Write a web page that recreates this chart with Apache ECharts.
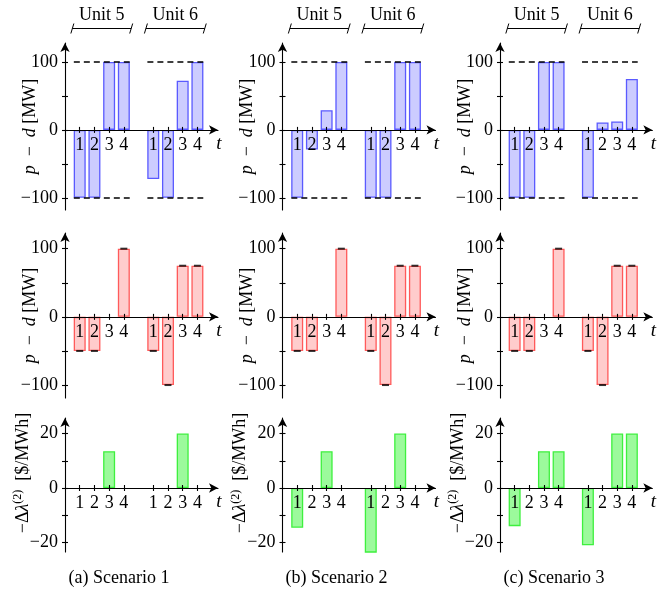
<!DOCTYPE html>
<html><head><meta charset="utf-8">
<script src="https://cdn.jsdelivr.net/npm/echarts@6/dist/echarts.min.js"></script>
<style>html,body{margin:0;padding:0;background:#fff}#c{width:657px;height:603px}</style>
</head><body><div id="c"></div>
<script>
// ---- data ----
const scenarioLabels = ['(a) Scenario 1', '(b) Scenario 2', '(c) Scenario 3'];
const unitLabels = ['Unit 5', 'Unit 6'];
const slotLabels = ['1', '2', '3', '4'];
const slotPositions = [1, 2, 3, 4, 6, 7, 8, 9];
const unitSpans = [[0.5, 4.5], [5.5, 9.5]];
const limitSpans = [[0.6, 4.4], [5.6, 9.4]];
const powerLimits = [-100, 100];
// row 1: p - d [MW]
const powerS1 = [-100, -100, 100, 100, -72.5, -100, 72.5, 100];
const powerS2 = [-100, -29, 29, 100, -100, -100, 100, 100];
const powerS3 = [-100, -100, 100, 100, -100, 11, 12.5, 75];
// row 2: p - d [MW]
const deviationS1 = [-50, -50, 0, 100, -50, -100, 75, 75];
const deviationS2 = [-50, -50, 0, 100, -50, -100, 75, 75];
const deviationS3 = [-50, -50, 0, 100, -50, -100, 75, 75];
// row 3: -Δλ(2) [$/MWh]
const priceS1 = [0, 0, 13.5, 0, 0, 0, 20, 0];
const priceS2 = [-14.6, 0, 13.5, 0, -24.6, 0, 20, 0];
const priceS3 = [-14, 0, 13.5, 13.5, -21, 0, 20, 20];
const powerTicks = [-100, -50, 0, 50, 100];
const powerTickLabels = [-100, 0, 100];
const priceTicks = [-20, -10, 0, 10, 20];
const priceTickLabels = [-20, 0, 20];

const rowsData = [
  [powerS1, powerS2, powerS3],
  [deviationS1, deviationS2, deviationS3],
  [priceS1, priceS2, priceS3]
];

// ---- layout / style ----
const FONT = 'Liberation Serif';
const FS = 18;
const colLeft = [65, 282.5, 500];
const gridW = 153;
const rows = [
  { top: 43, height: 167, min: -118, max: 128, ticks: powerTicks, labels: powerTickLabels,
    fill: '#ccccff', border: '#5a5aff', caps: false, limits: true },
  { top: 233, height: 165, min: -119, max: 123, ticks: powerTicks, labels: powerTickLabels,
    fill: '#ffcccc', border: '#ff5a5a', caps: true, limits: false },
  { top: 418, height: 134, min: -23.5, max: 25.7, ticks: priceTicks, labels: priceTickLabels,
    fill: '#9cfa9c', border: '#3ef03e', caps: false, limits: false }
];
const X_MAX = 10.4;
const fmtNum = v => v < 0 ? '\u2212' + (-v) : String(v);

const grid = [], xAxis = [], yAxis = [], series = [];
for (let r = 0; r < 3; r++) {
  for (let c = 0; c < 3; c++) {
    const g = r * 3 + c;
    const R = rows[r];
    const zeroOffset = -R.height * (0 - R.min) / (R.max - R.min);
    grid.push({ left: colLeft[c], top: R.top, width: gridW, height: R.height });
    const lineStyle = { color: '#000', width: 1.1 };
    xAxis.push({
      type: 'value', gridIndex: g, position: 'bottom', offset: zeroOffset, min: 0, max: X_MAX, z: 5,
      axisLine: { show: true, onZero: false, symbol: ['none', 'arrow'], symbolSize: [7, 9], lineStyle },
      axisTick: { show: true, customValues: slotPositions, length: 3, lineStyle },
      axisLabel: { show: true, customValues: slotPositions, margin: 6, color: '#000', fontFamily: FONT, fontSize: FS,
        formatter: v => slotLabels[slotPositions.indexOf(v) % 4] },
      splitLine: { show: false },
      name: 't', nameLocation: 'end', nameGap: 1, nameMoveOverlap: false,
      nameTextStyle: { fontFamily: FONT, fontSize: FS + 1, fontStyle: 'italic', color: '#000',
        align: 'center', verticalAlign: 'top', padding: [5, 0, 0, 0] }
    });
    xAxis.push({
      type: 'value', gridIndex: g, position: 'bottom', offset: zeroOffset, min: 0, max: X_MAX, z: 5,
      axisLine: { show: false, onZero: false },
      axisTick: { show: true, inside: true, customValues: slotPositions, length: 3, lineStyle },
      axisLabel: { show: false }, splitLine: { show: false }
    });
    let yName, yGap, yPad;
    if (r < 2) {
      yName = '{i|p}  \u2212  {i|d} [MW]';
      yGap = 26; yPad = [0, 0, 0, 0];
    } else {
      yName = '{n|\u2212\u0394}{i|\u03bb}{sup|(2)}  {n|[$/MWh]}';
      yGap = 31; yPad = [0, 0, 0, 24];
    }
    yAxis.push({
      type: 'value', gridIndex: g, position: 'left', min: R.min, max: R.max, z: 5,
      axisLine: { show: true, onZero: false, symbol: ['none', 'arrow'], symbolSize: [7, 9], lineStyle },
      axisTick: { show: true, customValues: R.ticks, length: 3, lineStyle },
      axisLabel: { show: true, customValues: R.labels, margin: 7, color: '#000', fontFamily: FONT, fontSize: FS,
        formatter: fmtNum },
      splitLine: { show: false },
      name: yName, nameLocation: 'middle', nameGap: yGap, nameRotate: 90, nameMoveOverlap: false,
      nameTextStyle: { fontFamily: FONT, fontSize: FS, color: '#000', padding: yPad,
        rich: {
          i: { fontFamily: FONT, fontSize: FS, fontStyle: 'italic', color: '#000' },
          n: { fontFamily: FONT, fontSize: FS, color: '#000' },
          sup: { fontFamily: FONT, fontSize: 12, color: '#000', verticalAlign: 'top', lineHeight: 22 }
        } }
    });
    yAxis.push({
      type: 'value', gridIndex: g, position: 'left', min: R.min, max: R.max, z: 5,
      axisLine: { show: false, onZero: false },
      axisTick: { show: true, inside: true, customValues: R.ticks, length: 3, lineStyle },
      axisLabel: { show: false }, splitLine: { show: false }
    });
    const vals = rowsData[r][c];
    const pts = slotPositions.map((x, i) => [x, vals[i]]).filter(d => d[1] !== 0);
    const bar = {
      type: 'bar', xAxisIndex: 2 * g, yAxisIndex: 2 * g, barWidth: 12, data: pts,
      itemStyle: { color: R.fill, borderColor: R.border, borderWidth: 1.3 },
      silent: true, animation: false
    };
    if (R.limits) {
      const md = [];
      powerLimits.forEach(lim => limitSpans.forEach(s => md.push([{ coord: [s[0], lim] }, { coord: [s[1], lim] }])));
      bar.markLine = { silent: true, symbol: ['none', 'none'], label: { show: false }, animation: false,
        lineStyle: { type: [6, 4], color: '#000', width: 1.7 }, data: md };
    }
    series.push(bar);
    if (R.caps) {
      series.push({
        type: 'scatter', xAxisIndex: 2 * g, yAxisIndex: 2 * g, data: pts, symbol: 'rect',
        symbolSize: [7, 2], itemStyle: { color: '#000' }, z: 6, silent: true, animation: false
      });
    }
  }
}

const chart = echarts.init(document.getElementById('c'), null, { renderer: 'canvas' });
chart.setOption({ animation: false, backgroundColor: '#fff', grid, xAxis, yAxis, series });

// annotations: unit brackets and captions
const graphic = [];
for (let c = 0; c < 3; c++) {
  const g = c;
  unitSpans.forEach((s, u) => {
    const x0 = chart.convertToPixel({ xAxisIndex: 2 * g }, s[0]);
    const x1 = chart.convertToPixel({ xAxisIndex: 2 * g }, s[1]);
    const yb = 28.5;
    const ls = { stroke: '#000', lineWidth: 1 };
    graphic.push({ type: 'line', shape: { x1: x0, y1: yb, x2: x1, y2: yb }, style: ls, silent: true });
    graphic.push({ type: 'line', shape: { x1: x0 + 1.5, y1: yb - 5, x2: x0 - 1.5, y2: yb + 5 }, style: ls, silent: true });
    graphic.push({ type: 'line', shape: { x1: x1 + 1.5, y1: yb - 5, x2: x1 - 1.5, y2: yb + 5 }, style: ls, silent: true });
    graphic.push({ type: 'text', x: (x0 + x1) / 2, y: 15, silent: true,
      style: { text: unitLabels[u], fontFamily: FONT, fontSize: FS, fill: '#000', align: 'center', verticalAlign: 'middle' } });
  });
  graphic.push({ type: 'text', x: colLeft[c] + 54, y: 578, silent: true,
    style: { text: scenarioLabels[c], fontFamily: FONT, fontSize: FS, fill: '#000', align: 'center', verticalAlign: 'middle' } });
}
chart.setOption({ graphic });
</script>
</body></html>
